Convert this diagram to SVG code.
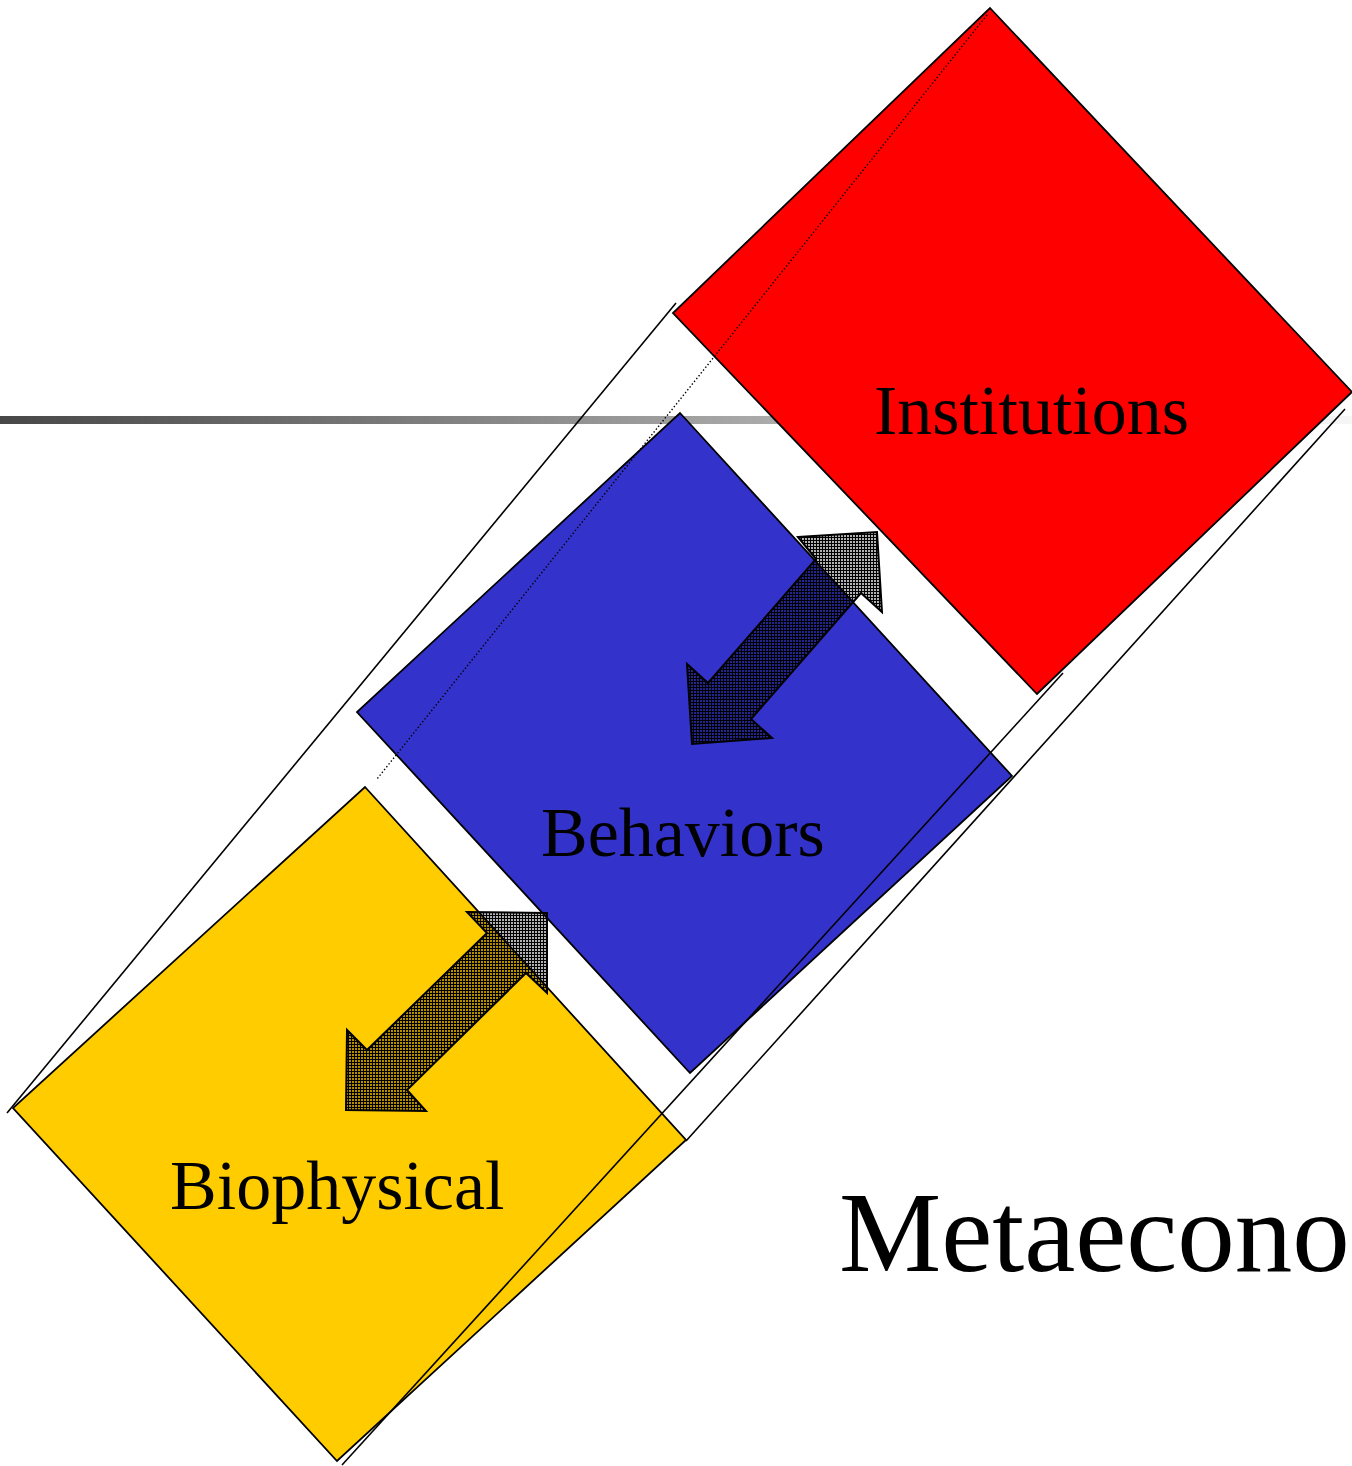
<svg xmlns="http://www.w3.org/2000/svg" width="1352" height="1466" viewBox="0 0 1352 1466">
<defs>
<linearGradient id="barGrad" x1="0" y1="0" x2="1352" y2="0" gradientUnits="userSpaceOnUse">
<stop offset="0" stop-color="#474747"/>
<stop offset="1" stop-color="#f6f6f6"/>
</linearGradient>
<pattern id="hatch" x="0" y="0" width="3" height="3" patternUnits="userSpaceOnUse">
<rect x="0" y="0" width="3" height="3" fill="#000" fill-opacity="0.3"/>
<rect x="0" y="0" width="3" height="1" fill="#000"/>
<rect x="0" y="0" width="1" height="3" fill="#000"/>
</pattern>
</defs>
<style>
.sq{stroke:#000;stroke-width:1.8;stroke-linejoin:miter}
.frame{fill:none;stroke:#000;stroke-width:1.6}
.dot{fill:none;stroke:#000;stroke-width:1.4;stroke-dasharray:1.4 2.2}
.arrow{fill:url(#hatch);stroke:#000;stroke-width:2;stroke-linejoin:miter}
.lbl{font-family:"Liberation Serif","Times New Roman",serif;font-size:70px;fill:#000}
.title{font-family:"Liberation Serif","Times New Roman",serif;font-size:115px;fill:#000}
</style>
<rect id="bar" x="0" y="416" width="1352" height="8" fill="url(#barGrad)"/>
<g id="frame-left"><line class="frame" x1="7" y1="1113" x2="676" y2="303"/></g>
<g id="biophysical">
<polygon class="sq" fill="#FFCC00" points="365,787 686,1140 337,1461 13,1108"/>
<text class="lbl" x="170" y="1209">Biophysical</text>
</g>
<g id="behaviors">
<polygon class="sq" fill="#3333CC" points="680,413 1012,776 690,1073 357,712"/>
<text class="lbl" x="541" y="856">Behaviors</text>
</g>
<g id="institutions">
<polygon class="sq" fill="#FF0000" points="990,8 1352,392 1037,694 673,313"/>
<text class="lbl" x="874" y="434">Institutions</text>
</g>
<g id="connectors">
<line class="frame" x1="1345" y1="409" x2="686" y2="1141"/>
<line class="frame" x1="1063" y1="673" x2="342" y2="1465"/>
<line class="dot" x1="987" y1="15" x2="377" y2="779"/>
<polygon class="arrow" points="798,537 877,532 882,612 861,593 751,719 772,738 692,744 687,664 708,683 816,559"/>
<polygon class="arrow" points="467,912 547,913 547,993 526,973 407,1090 426,1111 346,1110 347,1030 367,1050 487,933"/>
</g>
<g id="title">
<text class="title" x="839" y="1271">Metaecono</text>
</g>
</svg>
